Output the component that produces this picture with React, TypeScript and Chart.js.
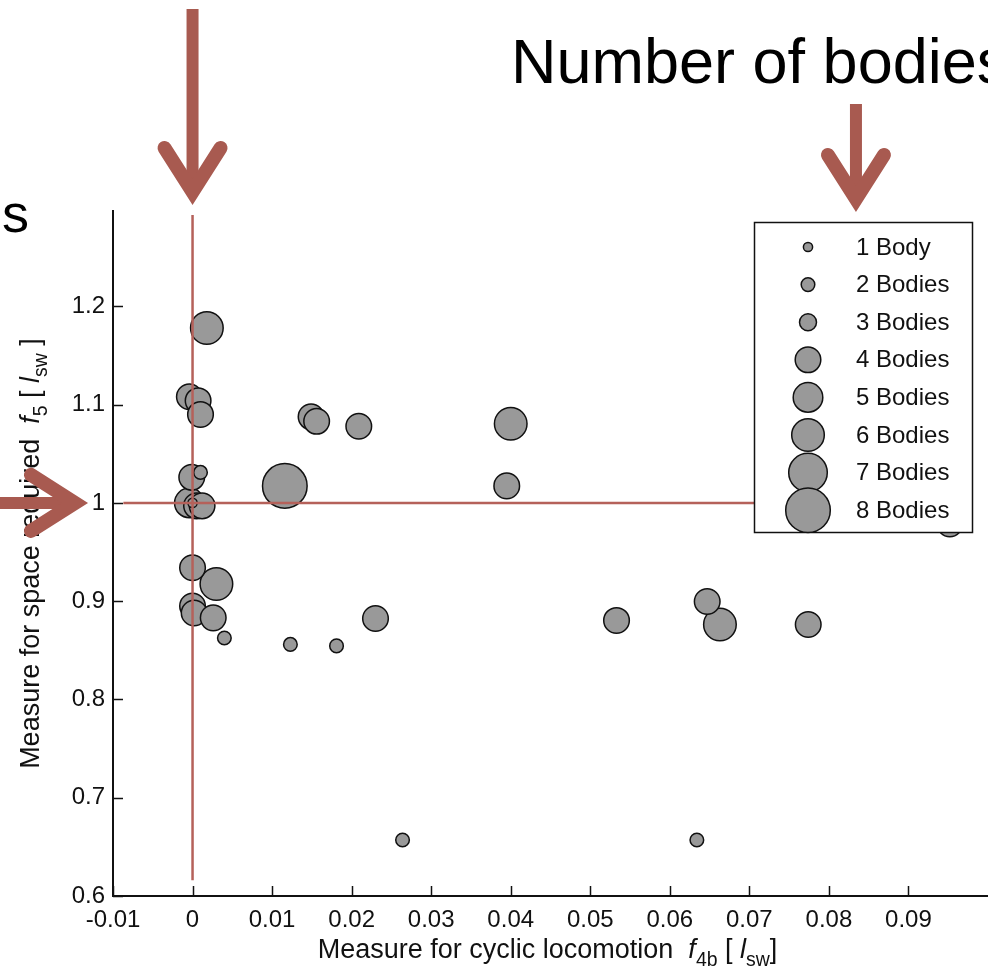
import React, { useEffect, useRef } from "react";
import { Chart, registerables } from "chart.js";

Chart.register(...registerables);

// ---------------- data ----------------
const bodyLabels = ["1 Body", "2 Bodies", "3 Bodies", "4 Bodies", "5 Bodies", "6 Bodies", "7 Bodies", "8 Bodies"];

// f4b : measure for cyclic locomotion
const cyclicLocomotion = [
  0.0018, -0.0004, 0.0007, 0.001, -0.0001, 0.001, -0.0004, 0.0005, 0.0012, 0.0,
  0.0, 0.003, 0.0, 0.0002, 0.0026, 0.004, 0.0123, 0.0181, 0.0116, 0.0149,
  0.0156, 0.0209, 0.04, 0.0395, 0.023, 0.0533, 0.0647, 0.0663, 0.0774, 0.0264,
  0.0634, 0.0952,
];
// f5 : measure for space required
const spaceRequired = [
  1.178, 1.108, 1.104, 1.09, 1.026, 1.031, 1.0, 0.997, 0.997, 1.0,
  0.934, 0.9175, 0.895, 0.888, 0.883, 0.8625, 0.856, 0.8545, 1.0173, 1.0876,
  1.083, 1.078, 1.0805, 1.0173, 0.8824, 0.8804, 0.8997, 0.8763, 0.8763, 0.657,
  0.657, 0.9786,
];
const bodyCounts = [
  6, 4, 4, 4, 4, 2, 5, 4, 4, 1,
  4, 6, 4, 4, 4, 2, 2, 2, 8, 4,
  4, 4, 6, 4, 4, 4, 4, 6, 4, 2,
  2, 4,
];

const xTickValues = [-0.01, 0, 0.01, 0.02, 0.03, 0.04, 0.05, 0.06, 0.07, 0.08, 0.09];
const yTickValues = [0.6, 0.7, 0.8, 0.9, 1.0, 1.1, 1.2];
const xRange = [-0.01, 0.1];
const yRange = [0.6, 1.297];

// reference guide lines (f4b = 0, f5 = 1)
const referenceX = 0;
const referenceY = 1;
const verticalGuideSpan = [0.616, 1.293];
const horizontalGuideSpan = [-0.0087, 0.0945];
const legendArrowX = 0.0834;

// ---------------- styles ----------------
const FONT = '"Liberation Sans", Arial, Helvetica, sans-serif';
const markerRadius = [4.6, 6.8, 8.5, 12.8, 14.8, 16.3, 19.3, 22.3];
const MARKER_FILL = "#999999";
const MARKER_EDGE = "#111111";
const GUIDE_COLOR = "#B5615A";
const ARROW_COLOR = "#A85A50";
const TICK_SIZE = 24;
const TITLE_SIZE = 27;

type Seg = { t: string; it?: boolean; sub?: boolean };

const xTitle: Seg[] = [
  { t: "Measure for cyclic locomotion  " },
  { t: "f", it: true },
  { t: "4b", sub: true },
  { t: " [ " },
  { t: "l", it: true },
  { t: "sw", sub: true },
  { t: "]" },
];
const yTitle: Seg[] = [
  { t: "Measure for space required  " },
  { t: "f", it: true },
  { t: "5", sub: true },
  { t: " [ " },
  { t: "l", it: true },
  { t: "sw", sub: true },
  { t: " ]" },
];

function segFont(s: Seg, size: number) {
  const sz = s.sub ? size * 0.72 : size;
  return `${s.it ? "italic " : ""}${sz}px ${FONT}`;
}

function drawRich(ctx: CanvasRenderingContext2D, segs: Seg[], size: number, cx: number, baseline: number) {
  let w = 0;
  for (const s of segs) {
    ctx.font = segFont(s, size);
    w += ctx.measureText(s.t).width;
  }
  let x = cx - w / 2;
  ctx.textAlign = "left";
  ctx.textBaseline = "alphabetic";
  for (const s of segs) {
    ctx.font = segFont(s, size);
    ctx.fillText(s.t, x, baseline + (s.sub ? size * 0.3 : 0));
    x += ctx.measureText(s.t).width;
  }
}

function drawArrow(
  ctx: CanvasRenderingContext2D,
  tipX: number,
  tipY: number,
  dx: number,
  dy: number,
  length: number
) {
  const shaftW = 12;
  const headW = 14;
  const back = 44;
  const side = 28;
  const miter = 13;
  const vx = tipX - dx * miter;
  const vy = tipY - dy * miter;
  const px = -dy;
  const py = dx;
  ctx.save();
  ctx.strokeStyle = ARROW_COLOR;
  ctx.lineWidth = shaftW;
  ctx.lineCap = "butt";
  ctx.beginPath();
  ctx.moveTo(tipX - dx * length, tipY - dy * length);
  ctx.lineTo(vx - dx * 8, vy - dy * 8);
  ctx.stroke();
  ctx.lineWidth = headW;
  ctx.lineCap = "round";
  ctx.lineJoin = "miter";
  ctx.miterLimit = 10;
  ctx.beginPath();
  ctx.moveTo(vx - dx * back + px * side, vy - dy * back + py * side);
  ctx.lineTo(vx, vy);
  ctx.lineTo(vx - dx * back - px * side, vy - dy * back - py * side);
  ctx.stroke();
  ctx.restore();
}

const decorPlugin = {
  id: "decor",
  afterDatasetsDraw(chart: any) {
    const { ctx, chartArea } = chart;
    // legend box (drawn over the data, like MATLAB's opaque legend)
    const boxW = 218;
    const boxH = 310;
    const left = chartArea.right - 16 - boxW;
    const top = chartArea.top + 11;
    ctx.save();
    ctx.fillStyle = "#ffffff";
    ctx.fillRect(left, top, boxW, boxH);
    ctx.strokeStyle = "#111";
    ctx.lineWidth = 1.5;
    ctx.strokeRect(left + 0.5, top + 0.5, boxW, boxH);
    const rowH = 37.6;
    chart.data.datasets.forEach((ds: any) => {
      if (ds.type !== "bubble") return;
      const k = ds.bodyIndex;
      const cy = top + 25 + k * rowH;
      ctx.beginPath();
      ctx.arc(left + 54, cy, markerRadius[k], 0, Math.PI * 2);
      ctx.fillStyle = MARKER_FILL;
      ctx.fill();
      ctx.lineWidth = 1.5;
      ctx.strokeStyle = MARKER_EDGE;
      ctx.stroke();
      ctx.fillStyle = "#111";
      ctx.font = `${TICK_SIZE}px ${FONT}`;
      ctx.textAlign = "left";
      ctx.textBaseline = "middle";
      ctx.fillText(ds.label, left + 102, cy + 1);
    });
    ctx.restore();
  },
  afterDraw(chart: any) {
    const { ctx, chartArea } = chart;
    const xs = chart.scales.x;
    const ys = chart.scales.y;
    ctx.save();
    // inward tick marks
    ctx.strokeStyle = "#111";
    ctx.lineWidth = 1.5;
    ctx.beginPath();
    for (const v of xTickValues) {
      const p = Math.round(xs.getPixelForValue(v)) + 0.5;
      ctx.moveTo(p, chartArea.bottom);
      ctx.lineTo(p, chartArea.bottom - 10);
    }
    for (const v of yTickValues) {
      const p = Math.round(ys.getPixelForValue(v)) + 0.5;
      ctx.moveTo(chartArea.left, p);
      ctx.lineTo(chartArea.left + 10, p);
    }
    ctx.stroke();

    // axis titles
    ctx.fillStyle = "#111";
    drawRich(ctx, xTitle, TITLE_SIZE, (chartArea.left + chartArea.right) / 2 - 3, chartArea.bottom + 62);
    ctx.save();
    ctx.translate(39, (chartArea.top + chartArea.bottom) / 2);
    ctx.rotate(-Math.PI / 2);
    drawRich(ctx, yTitle, TITLE_SIZE, 0, 0);
    ctx.restore();

    // annotation arrows
    const x0 = xs.getPixelForValue(referenceX);
    const y1 = ys.getPixelForValue(referenceY);
    drawArrow(ctx, x0, chartArea.top - 6, 0, 1, 196);
    drawArrow(ctx, xs.getPixelForValue(legendArrowX), chartArea.top + 1, 0, 1, 108);
    drawArrow(ctx, chartArea.left - 25, y1, 1, 0, 95);

    // slide text
    ctx.fillStyle = "#000";
    ctx.textAlign = "left";
    ctx.textBaseline = "alphabetic";
    ctx.font = `63px ${FONT}`;
    ctx.fillText("Number of bodies", 511, 83);
    ctx.font = `54px ${FONT}`;
    ctx.fillText("s", 2, 232);
    ctx.restore();
  },
};

function formatTick(v: number) {
  const r = Math.round(v * 100) / 100;
  return r === 0 ? "0" : String(r);
}

export default function App() {
  const ref = useRef<HTMLCanvasElement | null>(null);

  useEffect(() => {
    if (!ref.current) return;
    const bubbleSets = bodyLabels.map((label, k) => ({
      type: "bubble" as const,
      label,
      bodyIndex: k,
      data: cyclicLocomotion
        .map((x, i) => ({ x, y: spaceRequired[i], n: bodyCounts[i] }))
        .filter((p) => p.n === k + 1)
        .map((p) => ({ x: p.x, y: p.y, r: markerRadius[k] })),
      backgroundColor: MARKER_FILL,
      borderColor: MARKER_EDGE,
      borderWidth: 1.5,
      hoverBorderWidth: 1.5,
      order: 1,
    }));
    const guideSets = [
      {
        type: "line" as const,
        label: "guide-x",
        data: [
          { x: referenceX, y: verticalGuideSpan[0] },
          { x: referenceX, y: verticalGuideSpan[1] },
        ],
        borderColor: GUIDE_COLOR,
        borderWidth: 2.5,
        pointRadius: 0,
        order: 0,
      },
      {
        type: "line" as const,
        label: "guide-y",
        data: [
          { x: horizontalGuideSpan[0], y: referenceY },
          { x: horizontalGuideSpan[1], y: referenceY },
        ],
        borderColor: GUIDE_COLOR,
        borderWidth: 2.5,
        pointRadius: 0,
        order: 0,
      },
    ];

    const chart = new Chart(ref.current, {
      type: "bubble",
      data: { datasets: [...guideSets, ...bubbleSets] as any },
      options: {
        responsive: false,
        animation: false,
        devicePixelRatio: 1,
        layout: { autoPadding: false, padding: { top: 211, left: 0, right: 0, bottom: 0 } },
        plugins: { legend: { display: false }, tooltip: { enabled: false } },
        events: [],
        scales: {
          x: {
            type: "linear",
            min: xRange[0],
            max: xRange[1],
            afterBuildTicks: (s: any) => {
              s.ticks = xTickValues.map((value) => ({ value }));
            },
            afterFit: (s: any) => {
              s.height = 78;
              s.paddingLeft = 0;
              s.paddingRight = 0;
            },
            grid: { display: false, drawTicks: false },
            border: { display: true, color: "#111", width: 2 },
            ticks: {
              padding: 10,
              color: "#111",
              font: { family: FONT, size: TICK_SIZE },
              maxRotation: 0,
              autoSkip: false,
              callback: (v: any) => formatTick(Number(v)),
            },
          },
          y: {
            type: "linear",
            min: yRange[0],
            max: yRange[1],
            afterBuildTicks: (s: any) => {
              s.ticks = yTickValues.map((value) => ({ value }));
            },
            afterFit: (s: any) => {
              s.width = 113;
              s.paddingTop = 0;
              s.paddingBottom = 0;
            },
            grid: { display: false, drawTicks: false },
            border: { display: true, color: "#111", width: 2 },
            ticks: {
              padding: 8,
              color: "#111",
              font: { family: FONT, size: TICK_SIZE },
              autoSkip: false,
              callback: (v: any) => formatTick(Number(v)),
            },
          },
        },
      },
      plugins: [decorPlugin],
    } as any);
    return () => chart.destroy();
  }, []);

  return (
    <div style={{ position: "fixed", left: 0, top: 0, width: 988, height: 974, overflow: "hidden", background: "#fff" }}>
      <canvas ref={ref} width={988} height={974} style={{ display: "block" }} />
    </div>
  );
}
